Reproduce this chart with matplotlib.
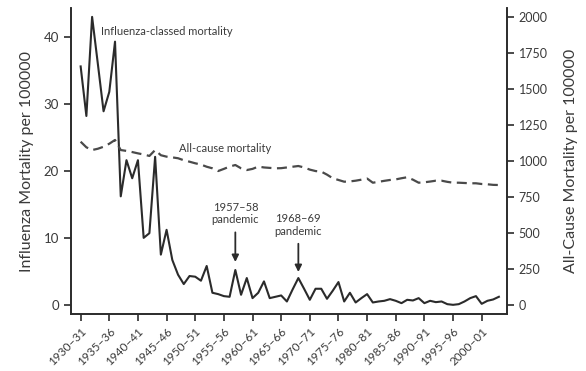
import matplotlib
import matplotlib.pyplot as plt

matplotlib.use("Agg")

plt.rcParams["font.family"] = ["Lato", "DejaVu Sans"]

# Season start years, 1930-31 through 2003-04
seasons = list(range(1930, 2004))

# Influenza-classed mortality, per 100 000
influenza = [
    35.6, 28.2, 43.0, 36.0, 28.9, 31.8, 39.3, 16.2, 21.6, 18.9,
    21.6, 10.0, 10.7, 22.1, 7.5, 11.2, 6.7, 4.5, 3.1, 4.3,
    4.2, 3.6, 5.8, 1.8, 1.6, 1.3, 1.2, 5.2, 1.5, 4.0,
    1.0, 1.8, 3.5, 1.0, 1.2, 1.4, 0.5, 2.3, 4.0, 2.4,
    0.75, 2.4, 2.4, 0.9, 2.1, 3.4, 0.5, 1.8, 0.35, 1.0,
    1.6, 0.35, 0.5, 0.6, 0.85, 0.6, 0.25, 0.75, 0.65, 1.0,
    0.25, 0.6, 0.4, 0.5, 0.1, 0.0, 0.1, 0.5, 1.0, 1.3,
    0.15, 0.6, 0.8, 1.2,
]

# All-cause mortality, per 100 000
all_cause = [
    1134, 1095, 1076, 1085, 1099, 1120, 1146, 1076, 1070, 1062,
    1053, 1045, 1035, 1076, 1040, 1030, 1025, 1019, 1005, 995,
    984, 975, 960, 949, 930, 945, 961, 972, 949, 937,
    945, 961, 955, 952, 949, 950, 955, 960, 965, 955,
    940, 930, 926, 905, 880, 868, 856, 858, 863, 870,
    878, 849, 855, 862, 868, 872, 880, 887, 870, 849,
    852, 857, 863, 863, 855, 849, 849, 847, 845, 845,
    840, 838, 834, 833,
]

tick_years = list(range(1930, 2001, 5))
tick_labels = [f"{y}\u2013{(y + 1) % 100:02d}" for y in tick_years]

ink = "#2b2b2b"
text_color = "#3a3a3a"

fig = plt.figure(figsize=(5.86, 3.71), dpi=100)
ax = fig.add_axes([0.121, 0.154, 0.744, 0.824])
ax2 = ax.twinx()

ax.plot(seasons, influenza, color=ink, linewidth=1.5)
ax2.plot(seasons, all_cause, color="#4a4a4a", linewidth=1.6,
         linestyle=(0, (4.5, 2.5)))

ax.set_xlim(1928.3, 2004.4)
ax.set_ylim(-1.35, 44.3)
ax2.set_ylim(-62.5, 2062)

ax.set_xticks(tick_years)
ax.set_xticklabels(tick_labels, rotation=45, ha="right",
                   rotation_mode="anchor", fontsize=8.5, color=text_color)
ax.set_yticks([0, 10, 20, 30, 40])
ax2.set_yticks(range(0, 2001, 250))

ax.tick_params(axis="both", direction="out", length=5, width=1.2,
               colors=ink, labelcolor=text_color, labelsize=9.5)
ax.tick_params(axis="x", labelsize=8.5)
ax2.tick_params(axis="y", direction="out", length=5, width=1.2,
                colors=ink, labelcolor=text_color, labelsize=9)

for a in (ax, ax2):
    a.spines["top"].set_visible(False)
    for s in ("left", "right", "bottom"):
        a.spines[s].set_color(ink)
        a.spines[s].set_linewidth(1.2)

ax.set_ylabel("Influenza Mortality per 100000", fontsize=11.5,
              color=text_color, labelpad=7)
ax2.set_ylabel("All-Cause Mortality per 100000", fontsize=11.5,
               color=text_color, labelpad=12)

ax.text(1933.6, 40.8, "Influenza-classed mortality", fontsize=8,
        color=text_color, va="center")
ax2.text(1947.2, 1090, "All-cause mortality", fontsize=8,
         color=text_color, va="center")

arrow_style = dict(arrowstyle="-|>", color=ink, lw=1.3,
                   shrinkA=3, shrinkB=0, mutation_scale=10)
ax.annotate("1957\u201358\npandemic", xy=(1957, 6.4), xytext=(1957, 13.6),
            ha="center", va="center", fontsize=8, color=text_color,
            linespacing=1.15, arrowprops=arrow_style)
ax.annotate("1968\u201369\npandemic", xy=(1968, 4.9), xytext=(1968, 11.9),
            ha="center", va="center", fontsize=8, color=text_color,
            linespacing=1.15, arrowprops=arrow_style)

fig.savefig("out.png", dpi=100)
plt.close(fig)
